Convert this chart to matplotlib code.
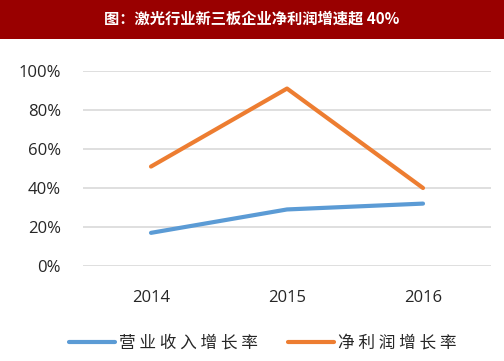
import matplotlib
matplotlib.use('Agg')
import matplotlib.pyplot as plt
from matplotlib.patches import Rectangle

plt.rcParams['font.family'] = ['Noto Sans CJK SC', 'DejaVu Sans']

# Data
years = ['2014', '2015', '2016']
revenue_growth = [0.17, 0.29, 0.32]   # 营业收入增长率
profit_growth = [0.51, 0.91, 0.40]    # 净利润增长率
series_names = ['营业收入增长率', '净利润增长率']
title = '图：激光行业新三板企业净利润增速超 40%'

fig = plt.figure(figsize=(5.04, 3.61), dpi=100)

# Title banner
fig.patches.append(Rectangle((0, 1 - 39 / 361), 1, 39 / 361, transform=fig.transFigure,
                             facecolor='#990000', edgecolor='none', zorder=0))
fig.text(0.5, 1 - 19 / 361, title, ha='center', va='center', color='white',
         fontsize=11, fontweight='bold')

ax = fig.add_axes([83 / 504, 1 - 266 / 361, 408 / 504, 195 / 361])
x = range(len(years))
ax.plot(x, revenue_growth, color='#5B9BD5', linewidth=3, solid_capstyle='round',
        label=' '.join(series_names[0]))
ax.plot(x, profit_growth, color='#ED7D31', linewidth=3, solid_capstyle='round',
        label=' '.join(series_names[1]))

ax.set_xlim(-0.5, 2.5)
ax.set_ylim(0, 1.0)
ax.set_yticks([0, 0.2, 0.4, 0.6, 0.8, 1.0])
ax.set_yticklabels(['0%', '20%', '40%', '60%', '80%', '100%'])
ax.set_xticks(list(x))
ax.set_xticklabels(years)
for lbl in ax.get_xticklabels() + ax.get_yticklabels():
    lbl.set_family(['Open Sans', 'DejaVu Sans'])
    lbl.set_fontsize(12)
    lbl.set_color('#262626')
ax.tick_params(length=0, pad=16)
ax.tick_params(axis='x', pad=17)
ax.grid(axis='y', color='#D9D9D9', linewidth=1.2)
ax.set_axisbelow(True)
for s in ax.spines.values():
    s.set_visible(False)

ax.legend(loc='center', bbox_to_anchor=(263 / 504, 1 - 343 / 361), bbox_transform=fig.transFigure,
          ncol=2, frameon=False, fontsize=12, handlelength=2.75, columnspacing=1.8,
          handletextpad=0.25, labelcolor='#262626')

fig.savefig('out.png', dpi=100)
